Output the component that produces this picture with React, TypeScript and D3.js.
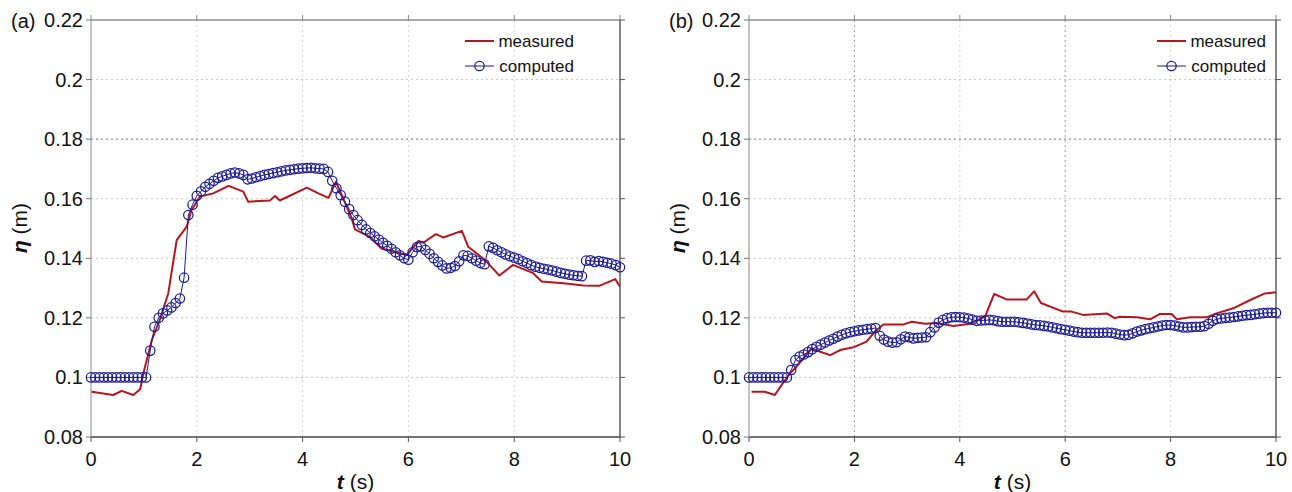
import React from "react";
import * as d3 from "d3";

const xTicks = [0, 2, 4, 6, 8, 10];
const yTicks = [0.08, 0.1, 0.12, 0.14, 0.16, 0.18, 0.2, 0.22];
const yTickLabels = ["0.08", "0.1", "0.12", "0.14", "0.16", "0.18", "0.2", "0.22"];
const seriesNames = ["measured", "computed"];
const panelLabels = ["(a)", "(b)"];

const computedStep = 0.08;

// Panel (a) measured: [t, eta]
const measuredA: [number, number][] = [
  [0.01, 0.0952], [0.42, 0.0941], [0.58, 0.0955], [0.8, 0.0941], [0.93, 0.096], [0.99, 0.1014],
  [1.15, 0.1126], [1.3, 0.1193], [1.46, 0.1282], [1.62, 0.1461], [1.81, 0.1506], [1.9, 0.1562],
  [2.06, 0.1607], [2.31, 0.1618], [2.6, 0.1643], [2.88, 0.1624], [2.97, 0.159], [3.38, 0.1594],
  [3.48, 0.1609], [3.57, 0.1594], [4.08, 0.1637], [4.3, 0.1618], [4.49, 0.1603], [4.63, 0.1657],
  [4.93, 0.1534], [4.99, 0.1497], [5.27, 0.1472], [5.49, 0.1433], [5.97, 0.1411], [6.19, 0.1458],
  [6.28, 0.1452], [6.52, 0.1481], [6.66, 0.147], [7.01, 0.1492], [7.13, 0.1439], [7.45, 0.1394],
  [7.72, 0.1342], [7.98, 0.1378], [8.36, 0.135], [8.52, 0.1322], [8.93, 0.1316], [9.31, 0.1309],
  [9.62, 0.1308], [9.91, 0.133], [10.0, 0.1305],
];

// Panel (a) computed, one value every 0.08 s from t = 0
const computedA: number[] = [
  0.1, 0.1, 0.1, 0.1, 0.1, 0.1, 0.1, 0.1, 0.1, 0.1, 0.1, 0.1, 0.1,
  0.1, 0.109, 0.117, 0.12, 0.1215, 0.1225, 0.1235, 0.125, 0.1265, 0.1335,
  0.1545, 0.158, 0.161, 0.1625, 0.164, 0.165, 0.166, 0.167, 0.1675, 0.168,
  0.1685, 0.1688, 0.1685, 0.168, 0.1665, 0.1668, 0.1672, 0.1676, 0.168, 0.1683,
  0.1686, 0.1689, 0.1692, 0.1695, 0.1697, 0.1699, 0.1701, 0.1702, 0.1703, 0.1704,
  0.1702, 0.1701, 0.17, 0.169, 0.166, 0.1635, 0.1612, 0.159, 0.1565, 0.1545,
  0.1528, 0.1512, 0.1497, 0.1485, 0.1474, 0.1463, 0.1452, 0.1442, 0.1432, 0.142,
  0.141, 0.14, 0.1395, 0.142, 0.1438, 0.144, 0.1428, 0.1415, 0.14, 0.1388,
  0.1376, 0.1366, 0.1368, 0.1374, 0.139, 0.141, 0.1408, 0.14, 0.1392, 0.1384,
  0.138, 0.144, 0.1435, 0.1427, 0.142, 0.1413, 0.1407, 0.1402, 0.1397, 0.139,
  0.1384, 0.1377, 0.1372, 0.1368, 0.1365, 0.1362, 0.1359, 0.1355, 0.1351, 0.1348,
  0.1345, 0.1343, 0.1341, 0.134, 0.1392, 0.1393, 0.1388, 0.1391, 0.1388, 0.1385,
  0.1382, 0.1377, 0.137,
];

// Panel (b) measured: [t, eta]
const measuredB: [number, number][] = [
  [0.05, 0.0952], [0.3, 0.0952], [0.49, 0.0941], [0.62, 0.0975], [0.78, 0.1014], [0.9, 0.1036],
  [1.19, 0.1098], [1.35, 0.1086], [1.54, 0.1075], [1.73, 0.1092], [1.98, 0.1101], [2.23, 0.112],
  [2.39, 0.1154], [2.55, 0.1178], [2.93, 0.1178], [3.09, 0.1187], [3.34, 0.118], [3.56, 0.1183],
  [3.88, 0.1173], [4.19, 0.118], [4.48, 0.1204], [4.65, 0.128], [4.89, 0.1262], [5.27, 0.1262],
  [5.41, 0.1289], [5.54, 0.125], [5.96, 0.1221], [6.12, 0.1221], [6.34, 0.121], [6.79, 0.1215],
  [6.94, 0.1199], [7.04, 0.1204], [7.36, 0.1202], [7.61, 0.1195], [7.8, 0.1213], [8.02, 0.1213],
  [8.12, 0.1195], [8.37, 0.1202], [8.69, 0.1202], [8.87, 0.1215], [9.19, 0.1232], [9.51, 0.126],
  [9.79, 0.1282], [10.0, 0.1286],
];

// Panel (b) computed, one value every 0.08 s from t = 0
const computedB: number[] = [
  0.1, 0.1, 0.1, 0.1, 0.1, 0.1, 0.1, 0.1, 0.1, 0.1,
  0.1025, 0.1058, 0.107, 0.1077, 0.1085, 0.1095, 0.1103, 0.111, 0.1117, 0.1124,
  0.113, 0.1137, 0.1143, 0.1148, 0.1152, 0.1155, 0.1158, 0.116, 0.1162, 0.1164,
  0.1166, 0.114, 0.1127, 0.112, 0.1117, 0.1118, 0.1128, 0.1137, 0.1135, 0.1131,
  0.1133, 0.1134, 0.1135, 0.1152, 0.1168, 0.1184, 0.1193, 0.1199, 0.1202, 0.1203,
  0.1202, 0.1201, 0.1198, 0.1194, 0.119, 0.1191, 0.1192, 0.1193, 0.1192, 0.1189,
  0.1187, 0.1187, 0.1187, 0.1187, 0.1185, 0.1183, 0.1181, 0.1178, 0.1176, 0.1175,
  0.1173, 0.1171, 0.1168, 0.1165, 0.1162, 0.116, 0.1157, 0.1154, 0.1152, 0.115,
  0.115, 0.115, 0.115, 0.115, 0.115, 0.1151, 0.115, 0.1147, 0.1144, 0.1142,
  0.1143, 0.1148, 0.1154, 0.1158, 0.1162, 0.1165, 0.1168, 0.1171, 0.1174, 0.1176,
  0.1176, 0.1174, 0.1171, 0.1168, 0.1168, 0.1169, 0.117, 0.117, 0.1172, 0.118,
  0.119, 0.1196, 0.1198, 0.12, 0.1201, 0.1203, 0.1205, 0.1207, 0.1209, 0.121,
  0.1212, 0.1214, 0.1216, 0.1217, 0.1217, 0.1217,
];

const RED = "#b8141c";
const BLUE = "#1c1c96";
const FONT = "'Liberation Sans', Arial, sans-serif";

type PanelProps = {
  left: number;
  right: number;
  label: string;
  measured: [number, number][];
  computed: number[];
  legendRight: number;
  darkGridX: number[];
};

function Panel({ left, right, label, measured, computed, legendRight, darkGridX }: PanelProps) {
  const top = 20;
  const bottom = 437;
  const x = d3.scaleLinear().domain([0, 10]).range([left, right]);
  const y = d3.scaleLinear().domain([0.08, 0.22]).range([bottom, top]);
  const line = d3.line<[number, number]>().x((d) => x(d[0])).y((d) => y(d[1]));
  const comp: [number, number][] = computed.map((v, i) => [i * computedStep, v]);
  const tick = 5;
  const legY1 = 41;
  const legY2 = 66;
  const legTextX = legendRight;
  const lx1 = legTextX - 109;
  const lx2 = legTextX - 80;
  return (
    <g>
      {/* grid */}
      {xTicks.slice(1, -1).map((t) => (
        <line key={"gx" + t} x1={x(t)} x2={x(t)} y1={top} y2={bottom}
          stroke={darkGridX.includes(t) ? "#9a9a9a" : "#d6d6d6"} strokeWidth={1} strokeDasharray="2,3" />
      ))}
      {yTicks.slice(1, -1).map((v) => (
        <line key={"gy" + v} x1={left} x2={right} y1={y(v)} y2={y(v)}
          stroke={Math.abs(v - 0.18) < 1e-6 ? "#707070" : "#c4c4c4"} strokeWidth={1} strokeDasharray="2,3" />
      ))}
      {/* box */}
      <line x1={left} x2={right} y1={top} y2={top} stroke="#555" strokeWidth={1.2} />
      <line x1={left} x2={right} y1={bottom} y2={bottom} stroke="#444" strokeWidth={1.3} />
      <line x1={left} x2={left} y1={top} y2={bottom} stroke="#999" strokeWidth={1.2} />
      <line x1={right} x2={right} y1={top} y2={bottom} stroke="#444" strokeWidth={1.3} />
      {/* ticks */}
      {xTicks.map((t) => (
        <g key={"tx" + t}>
          <line x1={x(t)} x2={x(t)} y1={bottom} y2={bottom + tick} stroke="#555" />
          <line x1={x(t)} x2={x(t)} y1={top} y2={top - tick} stroke="#888" />
          <text x={x(t)} y={466} textAnchor="middle" fontSize={20} fontFamily={FONT} fill="#111">{t}</text>
        </g>
      ))}
      {yTicks.map((v, i) => (
        <g key={"ty" + v}>
          <line x1={left - tick} x2={left} y1={y(v)} y2={y(v)} stroke="#777" />
          <line x1={right} x2={right + tick} y1={y(v)} y2={y(v)} stroke="#555" />
          <text x={left - 8} y={y(v) + 7} textAnchor="end" fontSize={20} fontFamily={FONT} fill="#111">{yTickLabels[i]}</text>
        </g>
      ))}
      <text x={left - 80} y={28} fontSize={20} fontFamily={FONT} fill="#111">{label}</text>
      {/* axis titles */}
      <text x={(left + right) / 2} y={489} textAnchor="middle" fontSize={21} fontFamily={FONT} fill="#111">
        <tspan fontWeight="bold" fontStyle="italic">t</tspan>
        <tspan> (s)</tspan>
      </text>
      <text transform={`translate(${left - 64},${228}) rotate(-90)`} textAnchor="middle" fontSize={21} fontFamily={FONT} fill="#111">
        <tspan fontWeight="bold" fontStyle="italic">η</tspan>
        <tspan> (m)</tspan>
      </text>
      {/* data */}
      <path d={line(measured) || ""} fill="none" stroke={RED} strokeWidth={2} strokeLinejoin="round" />
      <path d={line(comp) || ""} fill="none" stroke={BLUE} strokeWidth={1} />
      {comp.map((d, i) => (
        <circle key={"c" + i} cx={x(d[0])} cy={y(d[1])} r={4.7} fill="none" stroke={BLUE} strokeWidth={1.25} />
      ))}
      {/* legend */}
      <line x1={lx1} x2={lx2} y1={legY1} y2={legY1} stroke={RED} strokeWidth={2} />
      <text x={legTextX} y={legY1 + 6} textAnchor="end" fontSize={17} fontFamily={FONT} fill="#111">{seriesNames[0]}</text>
      <line x1={lx1} x2={lx2} y1={legY2} y2={legY2} stroke={BLUE} strokeWidth={1} />
      <circle cx={(lx1 + lx2) / 2} cy={legY2} r={4.7} fill="none" stroke={BLUE} strokeWidth={1.25} />
      <text x={legTextX} y={legY2 + 6} textAnchor="end" fontSize={17} fontFamily={FONT} fill="#111">{seriesNames[1]}</text>
    </g>
  );
}

export default function App() {
  return (
    <svg width={1292} height={492} style={{ position: "absolute", left: 0, top: 0, background: "#fff" }}>
      <rect x={0} y={0} width={1292} height={492} fill="#fff" />
      <Panel left={91} right={620} label={panelLabels[0]} measured={measuredA} computed={computedA} legendRight={574} darkGridX={[]} />
      <Panel left={749} right={1276} label={panelLabels[1]} measured={measuredB} computed={computedB} legendRight={1266} darkGridX={[2, 6]} />
    </svg>
  );
}
